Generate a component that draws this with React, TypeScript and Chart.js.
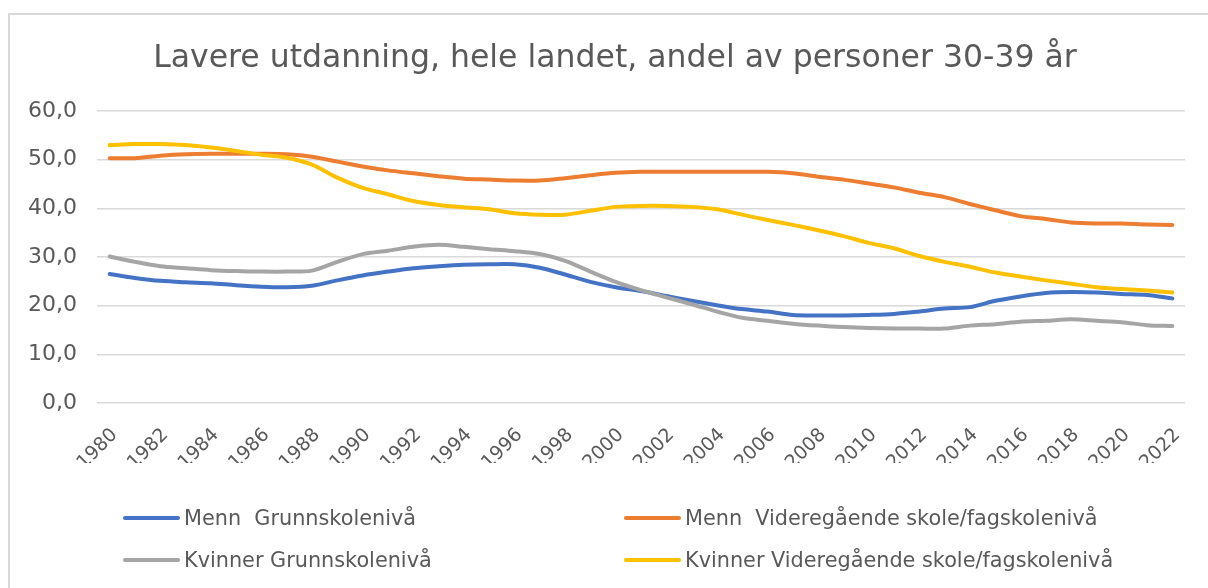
import React, { useEffect, useRef } from "react";
import { Chart, registerables } from "chart.js";

Chart.register(...registerables);

const TITLE = "Lavere utdanning, hele landet, andel av personer 30-39 år";

const years: string[] = [
  "1980", "1981", "1982", "1983", "1984", "1985", "1986", "1987", "1988", "1989",
  "1990", "1991", "1992", "1993", "1994", "1995", "1996", "1997", "1998", "1999",
  "2000", "2001", "2002", "2003", "2004", "2005", "2006", "2007", "2008", "2009",
  "2010", "2011", "2012", "2013", "2014", "2015", "2016", "2017", "2018", "2019",
  "2020", "2021", "2022",
];

const mennGrunnskole: number[] = [
  26.5, 25.7, 25.1, 24.8, 24.6, 24.2, 23.9, 23.8, 24.1, 25.2,
  26.2, 27.0, 27.7, 28.1, 28.4, 28.5, 28.5, 27.8, 26.4, 24.9,
  23.8, 23.0, 22.0, 21.0, 20.1, 19.3, 18.8, 18.1, 18.0, 18.0,
  18.1, 18.3, 18.8, 19.4, 19.7, 21.0, 21.9, 22.6, 22.8, 22.7,
  22.4, 22.2, 21.5,
];

const mennVideregaende: number[] = [
  50.3, 50.3, 50.8, 51.1, 51.2, 51.2, 51.2, 51.1, 50.6, 49.6,
  48.6, 47.8, 47.2, 46.6, 46.1, 45.9, 45.7, 45.7, 46.2, 46.8,
  47.3, 47.5, 47.5, 47.5, 47.5, 47.5, 47.5, 47.2, 46.5, 45.9,
  45.1, 44.3, 43.2, 42.3, 40.9, 39.6, 38.4, 37.8, 37.1, 36.9,
  36.9, 36.7, 36.6,
];

const kvinnerGrunnskole: number[] = [
  30.1, 29.0, 28.1, 27.7, 27.3, 27.1, 27.0, 27.0, 27.2, 29.0,
  30.6, 31.3, 32.1, 32.5, 32.1, 31.6, 31.2, 30.6, 29.2, 27.0,
  24.9, 23.2, 21.7, 20.3, 18.8, 17.5, 16.9, 16.3, 15.9, 15.6,
  15.4, 15.3, 15.3, 15.3, 15.9, 16.2, 16.7, 16.9, 17.2, 16.9,
  16.6, 16.0, 15.8,
];

const kvinnerVideregaende: number[] = [
  53.0, 53.2, 53.2, 53.0, 52.5, 51.8, 51.0, 50.4, 49.0, 46.3,
  44.2, 42.9, 41.5, 40.7, 40.2, 39.8, 39.0, 38.7, 38.7, 39.5,
  40.3, 40.5, 40.5, 40.3, 39.8, 38.7, 37.6, 36.6, 35.5, 34.3,
  32.9, 31.8, 30.2, 29.0, 28.0, 26.8, 26.0, 25.2, 24.5, 23.8,
  23.4, 23.1, 22.7,
];

const seriesNames: string[] = [
  "Menn  Grunnskolenivå",
  "Menn  Videregående skole/fagskolenivå",
  "Kvinner Grunnskolenivå",
  "Kvinner Videregående skole/fagskolenivå",
];
const seriesColors: string[] = ["#4472C4", "#ED7D31", "#A5A5A5", "#FFC000"];
const seriesValues: number[][] = [mennGrunnskole, mennVideregaende, kvinnerGrunnskole, kvinnerVideregaende];

const Y_MIN = 0;
const Y_MAX = 60;
const Y_STEP = 10;

const FONT = "'DejaVu Sans', Verdana, sans-serif";
const TEXT_COLOR = "#595959";

export default function App() {
  const canvasRef = useRef<HTMLCanvasElement | null>(null);

  useEffect(() => {
    const canvas = canvasRef.current;
    if (!canvas) return;
    const chart = new Chart(canvas, {
      type: "line",
      data: {
        labels: years,
        datasets: seriesNames.map((name, i) => ({
          label: name,
          data: seriesValues[i],
          borderColor: seriesColors[i],
          backgroundColor: seriesColors[i],
          borderWidth: 4,
          pointRadius: 0,
          pointHoverRadius: 0,
          tension: 0.3,
          borderCapStyle: "round" as const,
          borderJoinStyle: "round" as const,
          order: seriesNames.length - i,
        })),
      },
      options: {
        responsive: false,
        animation: false,
        layout: { padding: { top: 111, right: 23, bottom: 125, left: 0 } },
        plugins: {
          legend: { display: false },
          title: { display: false },
          tooltip: { enabled: false },
        },
        scales: {
          x: {
            offset: true,
            grid: { display: false },
            border: { display: false },
            afterFit: (s: any) => {
              s.height = 60;
            },
            ticks: {
              autoSkip: false,
              minRotation: 45,
              maxRotation: 45,
              padding: 13,
              labelOffset: 5,
              color: TEXT_COLOR,
              font: { family: FONT, size: 19 },
              callback: function (this: any, _v: any, idx: number) {
                return idx % 2 === 0 ? years[idx] : "";
              },
            },
          },
          y: {
            min: Y_MIN,
            max: Y_MAX,
            afterFit: (s: any) => {
              s.width = 97;
            },
            border: { display: false },
            grid: { color: "#d9d9d9", lineWidth: 1.5, drawTicks: false },
            ticks: {
              stepSize: Y_STEP,
              padding: 20,
              color: TEXT_COLOR,
              font: { family: FONT, size: 22 },
              callback: (v: any) => Number(v).toFixed(1).replace(".", ","),
            },
          },
        },
      },
    });
    return () => chart.destroy();
  }, []);

  const legendPos = [
    { x: 123, y: 518 },
    { x: 624, y: 518 },
    { x: 123, y: 560 },
    { x: 624, y: 560 },
  ];

  return (
    <div
      style={{
        position: "fixed",
        left: 0,
        top: 0,
        width: 1208,
        height: 588,
        background: "#ffffff",
        overflow: "hidden",
        fontFamily: FONT,
      }}
    >
      <div
        style={{
          position: "absolute",
          left: 8,
          top: 13,
          width: 1300,
          height: 700,
          borderLeft: "2px solid #d9d9d9",
          borderTop: "2px solid #d9d9d9",
        }}
      />
      <canvas
        ref={canvasRef}
        width={1208}
        height={588}
        style={{ position: "absolute", left: 0, top: 0, width: 1208, height: 588 }}
      />
      <div
        style={{
          position: "absolute",
          left: 0,
          width: 1230,
          top: 36,
          textAlign: "center",
          fontSize: 31.5,
          lineHeight: "40px",
          color: TEXT_COLOR,
          whiteSpace: "nowrap",
        }}
      >
        {TITLE}
      </div>
      {seriesNames.map((name, i) => (
        <div
          key={name}
          style={{
            position: "absolute",
            left: legendPos[i].x,
            top: legendPos[i].y - 14,
            height: 28,
            display: "flex",
            alignItems: "center",
            whiteSpace: "pre",
          }}
        >
          <div
            style={{
              width: 57,
              height: 4,
              borderRadius: 2,
              background: seriesColors[i],
              marginRight: 4,
            }}
          />
          <span style={{ fontSize: 20.8, color: TEXT_COLOR, lineHeight: "28px" }}>{name}</span>
        </div>
      ))}
    </div>
  );
}
